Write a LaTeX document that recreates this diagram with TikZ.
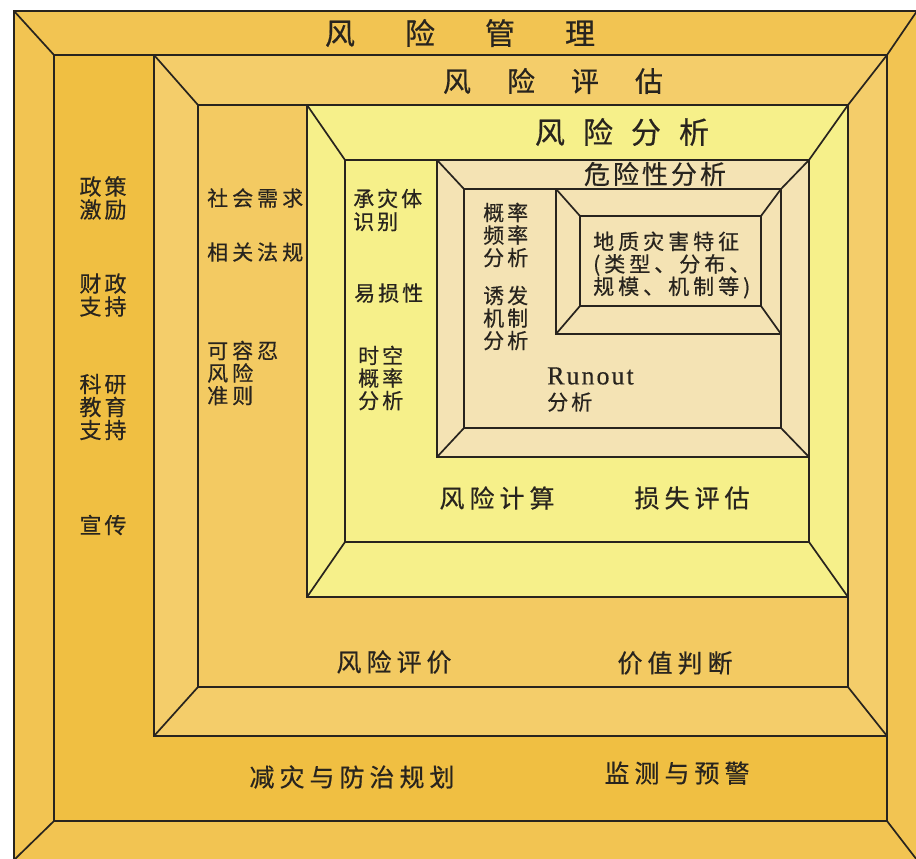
\documentclass[tikz,border=0pt]{standalone}
\usepackage{fontspec}
\setmainfont{Noto Sans CJK SC}[FakeBold=0.5]
\newfontfamily\serifrun{Liberation Serif}[FakeBold=0.4]
\makeatletter
\newcommand\lsp[2]{\def\lsp@gap{#1}\@tfor\lsp@c:=#2\do{\lsp@c\hspace{\lsp@gap}}\unskip}
\makeatother
\newcommand\la[1]{\lsp{3pt}{#1}}
\newcommand\lb[1]{\lsp{4pt}{#1}}
\newcommand\lc[1]{\lsp{5pt}{#1}}
\definecolor{frA}{RGB}{242,196,82}
\definecolor{inA}{RGB}{240,191,66}
\definecolor{frB}{RGB}{244,205,106}
\definecolor{inB}{RGB}{243,202,98}
\definecolor{frC}{RGB}{246,240,138}
\definecolor{inC}{RGB}{246,240,138}
\definecolor{frD}{RGB}{244,227,180}
\definecolor{inD}{RGB}{244,227,180}
\definecolor{frE}{RGB}{244,227,180}
\definecolor{inE}{RGB}{244,227,180}
\definecolor{ink}{RGB}{40,36,30}
\newcommand\frm[9]{%
  \fill[fr#9] (#1,#2) rectangle (#3,#4);
  \fill[in#9] (#5,#6) rectangle (#7,#8);
  \draw[bord] (#1,#2) rectangle (#3,#4) (#5,#6) rectangle (#7,#8)
    (#1,#2) -- (#5,#6) (#3,#2) -- (#7,#6) (#3,#4) -- (#7,#8) (#1,#4) -- (#5,#8);
}
\tikzset{
  bord/.style={draw=ink, line width=1.7pt, line join=miter},
  lbl/.style={inner sep=0pt, text=ink, font=\fontsize{21}{22.5}\selectfont},
  lblL/.style={lbl, font=\fontsize{22}{23}\selectfont},
  lblB/.style={lbl, font=\fontsize{25}{28}\selectfont},
  ttl/.style={lbl, font=\fontsize{30}{32}\selectfont},
}
\begin{document}
\begin{tikzpicture}[x=1pt,y=-1pt]
\useasboundingbox (0,0) rectangle (916,859);
\clip (0,0) rectangle (916,859);
\fill[white] (0,0) rectangle (916,859);
% frames
\frm{14}{11}{917}{860}{54}{55}{887}{821}{A}
\frm{154}{55}{887}{736}{198}{105}{848}{687}{B}
\frm{307}{105}{848}{597}{345}{160}{809}{542}{C}
\frm{437}{160}{809}{457}{464}{189}{781}{428}{D}
\frm{556}{189}{781}{334}{580}{216}{761}{306}{E}
% titles
\node[ttl] (t1) at (460,33) {\lsp{50pt}{风险管理}};
\node[ttl, font=\fontsize{28}{30}\selectfont] (t2) at (553,81) {\lsp{36pt}{风险评估}};
\node[ttl] (t3) at (622,132) {\lsp{18pt}{风险分析}};
\node[ttl, font=\fontsize{26}{28}\selectfont] (t4) at (655,174) {\la{危险性分析}};
% left column
\node[lblL, align=center] (p1) at (103,198) {\la{政策}\\\la{激励}};
\node[lblL, align=center] (p2) at (103,295) {\la{财政}\\\la{支持}};
\node[lblL, align=center] (p3) at (103,407) {\la{科研}\\\la{教育}\\\la{支持}};
\node[lblL] (p4) at (103,525) {\la{宣传}};
% level 2 left
\node[lbl, anchor=west] (s1) at (207,198) {\lb{社会需求}};
\node[lbl, anchor=west] (s2) at (207,252) {\lb{相关法规}};
\node[lbl, anchor=west, align=left] (s3) at (207,373) {\lb{可容忍}\\\lb{风险}\\\lb{准则}};
% level 3 left
\node[lbl, anchor=west, align=left, font=\fontsize{21}{23}\selectfont] (v1) at (353,210) {\la{承灾体}\\\la{识别}};
\node[lbl, anchor=west] (v2) at (354,293) {\la{易损性}};
\node[lbl, anchor=west, align=left] (v3) at (358,378) {\la{时空}\\\la{概率}\\\la{分析}};
% level 4
\node[lbl, anchor=west, align=left] (h1) at (483,235) {\la{概率}\\\la{频率}\\\la{分析}};
\node[lbl, anchor=west, align=left] (h2) at (483,318) {\la{诱发}\\\la{机制}\\\la{分析}};
\node[lbl, anchor=west, align=left] (h3) at (593,265) {\lb{地质灾害特征}\\\lb{(类型、分布、}\\\lb{规模、机制等)}};
\node[lbl, anchor=west, font=\serifrun\fontsize{26}{28}\selectfont] (r1) at (547,376) {\lsp{2pt}{Runout}};
\node[lbl, anchor=west] (r2) at (547,402) {\la{分析}};
% bottom labels
\node[lblB] (c1) at (497,498) {\lc{风险计算}};
\node[lblB] (c2) at (692,498) {\lc{损失评估}};
\node[lblB] (e1) at (394,662) {\lc{风险评价}};
\node[lblB] (e2) at (675,663) {\lc{价值判断}};
\node[lblB] (m1) at (352,777) {\lc{减灾与防治规划}};
\node[lblB] (m2) at (677,773) {\lc{监测与预警}};
\end{tikzpicture}
\end{document}
